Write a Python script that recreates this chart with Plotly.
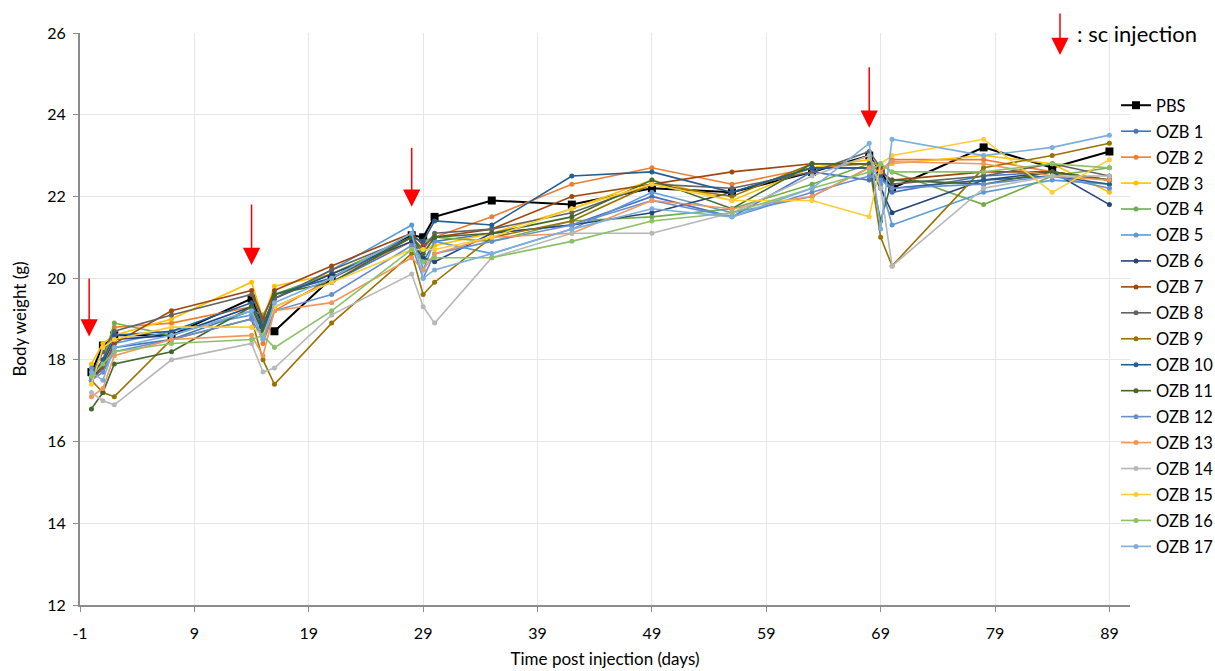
import plotly.graph_objects as go

days = [0, 1, 2, 7, 14, 15, 16, 21, 28, 29, 30, 35, 42, 49, 56, 63, 68, 69, 70, 78, 84, 89]

series_names = ["PBS"] + [f"OZB {i}" for i in range(1, 18)]
series_colors = ["#000000", "#4472C4", "#ED7D31", "#FFC000", "#70AD47", "#5B9BD5", "#264478",
                 "#9E480E", "#636363", "#997300", "#255E91", "#43682B", "#698ED0", "#F1975A",
                 "#B7B7B7", "#FFCD33", "#8CC168", "#7CAFDD"]

pbs = [17.7, 18.35, 18.6, 18.6, 19.5, 18.85, 18.7, 20.0, 21.05, 21.0, 21.5, 21.9, 21.8, 22.2, 22.1, 22.6, 23.0, 22.6, 22.2, 23.2, 22.7, 23.1]
ozb1 = [17.6, 17.8, 18.3, 18.5, 19.2, 18.7, 19.3, 19.9, 20.9, 20.4, 20.9, 21.1, 21.3, 22.0, 21.5, 22.6, 22.4, 22.5, 22.1, 22.5, 22.6, 22.4]
ozb2 = [17.6, 17.9, 18.8, 18.9, 19.3, 18.4, 19.2, 20.0, 20.9, 20.6, 21.0, 21.5, 22.3, 22.7, 22.3, 22.7, 22.8, 22.6, 22.9, 22.9, 22.6, 22.4]
ozb3 = [17.9, 18.4, 18.6, 19.0, 19.9, 19.0, 19.8, 20.1, 21.0, 20.7, 20.8, 21.1, 21.7, 22.4, 21.9, 22.7, 22.9, 22.7, 22.8, 23.0, 22.8, 22.1]
ozb4 = [17.6, 18.0, 18.9, 18.6, 19.2, 19.1, 19.6, 20.1, 21.0, 20.9, 21.0, 20.9, 21.4, 21.5, 21.7, 22.3, 22.8, 22.8, 22.6, 21.8, 22.5, 22.7]
ozb5 = [17.8, 17.7, 18.4, 18.7, 19.1, 18.6, 19.5, 20.2, 21.3, 20.2, 20.9, 20.6, 21.2, 22.1, 21.6, 22.0, 22.7, 22.3, 21.3, 22.1, 22.4, 22.3]
ozb6 = [17.5, 17.9, 18.5, 18.6, 19.3, 18.7, 19.5, 20.1, 20.9, 20.5, 20.4, 21.1, 21.3, 21.6, 22.1, 22.7, 22.7, 22.2, 21.6, 22.4, 22.6, 21.8]
ozb7 = [17.5, 17.8, 18.4, 19.2, 19.7, 19.0, 19.7, 20.3, 21.1, 20.8, 21.0, 21.2, 22.0, 22.3, 22.6, 22.8, 22.8, 22.6, 22.4, 22.6, 22.6, 22.4]
ozb8 = [17.6, 18.2, 18.7, 19.1, 19.6, 18.9, 19.5, 20.2, 21.0, 20.7, 21.1, 21.2, 21.6, 22.3, 22.2, 22.6, 23.1, 22.7, 22.3, 22.5, 22.8, 22.5]
ozb9 = [17.5, 17.2, 17.1, 18.5, 19.0, 18.0, 17.4, 18.9, 20.6, 19.6, 19.9, 21.0, 21.4, 22.3, 22.0, 22.8, 22.8, 21.0, 20.3, 22.7, 23.0, 23.3]
ozb10 = [17.6, 18.0, 18.6, 18.7, 19.4, 18.8, 19.6, 20.0, 21.0, 20.9, 21.4, 21.3, 22.5, 22.6, 22.1, 22.7, 22.7, 22.5, 22.2, 22.4, 22.5, 22.3]
ozb11 = [16.8, 17.2, 17.9, 18.2, 19.3, 18.7, 19.6, 19.9, 21.0, 20.6, 21.0, 21.1, 21.5, 22.4, 21.7, 22.8, 22.8, 21.4, 22.4, 22.3, 22.6, 22.4]
ozb12 = [17.5, 17.7, 18.2, 18.5, 19.0, 18.5, 19.2, 19.6, 20.8, 20.0, 20.6, 20.9, 21.3, 21.9, 21.5, 22.1, 22.5, 22.4, 22.2, 22.3, 22.5, 22.2]
ozb13 = [17.1, 17.3, 18.1, 18.5, 18.6, 18.1, 19.2, 19.4, 20.5, 20.2, 20.6, 21.0, 21.1, 21.9, 21.7, 22.0, 22.7, 22.6, 22.85, 22.8, 22.5, 22.4]
ozb14 = [17.2, 17.0, 16.9, 18.0, 18.4, 17.7, 17.8, 19.1, 20.1, 19.3, 18.9, 20.5, 21.1, 21.1, 21.6, 22.5, 23.0, 22.2, 20.3, 22.2, 22.5, 22.5]
ozb15 = [17.4, 18.3, 18.5, 18.8, 18.8, 18.6, 19.3, 19.9, 20.7, 20.7, 20.7, 21.0, 21.7, 22.3, 21.9, 21.9, 21.5, 22.8, 23.0, 23.4, 22.1, 22.9]
ozb16 = [17.6, 17.9, 18.2, 18.4, 18.5, 18.6, 18.3, 19.2, 20.7, 20.4, 20.5, 20.5, 20.9, 21.4, 21.6, 22.2, 22.6, 22.8, 22.6, 22.6, 22.8, 22.7]
ozb17 = [17.7, 17.5, 18.3, 18.6, 19.2, 18.5, 19.4, 20.0, 21.1, 20.0, 20.2, 20.6, 21.2, 21.7, 21.5, 22.2, 23.3, 21.2, 23.4, 23.0, 23.2, 23.5]

all_values = [pbs, ozb1, ozb2, ozb3, ozb4, ozb5, ozb6, ozb7, ozb8, ozb9, ozb10, ozb11,
              ozb12, ozb13, ozb14, ozb15, ozb16, ozb17]

injection_days = [-0.2, 14, 28, 68]
arrow_tip = [18.57, 20.32, 21.75, 23.68]
arrow_top = [20.03, 21.84, 23.23, 25.2]

x_ticks = [-1, 9, 19, 29, 39, 49, 59, 69, 79, 89]
y_ticks = [12, 14, 16, 18, 20, 22, 24, 26]

FONT = "Lato"
L, R, T, B = 80, 85, 33, 66
W, H = 1215, 671
PW, PH = W - L - R, H - T - B

fig = go.Figure()
for name, color, vals in zip(series_names, series_colors, all_values):
    is_pbs = name == "PBS"
    fig.add_trace(go.Scatter(
        x=days, y=vals, name=name, mode="lines+markers", legendgroup=name,
        line=dict(color=color, width=2 if is_pbs else 1.6),
        marker=dict(color=color, size=8 if is_pbs else 5,
                    symbol="square" if is_pbs else "circle"),
    ))

for d, tip, top in zip(injection_days, arrow_tip, arrow_top):
    fig.add_annotation(x=d, y=tip, ax=d, ay=top, xref="x", yref="y", axref="x", ayref="y",
                       text="", showarrow=True, arrowhead=2, arrowsize=2.3, arrowwidth=1.5,
                       arrowcolor="#FF0000")

# legend arrow
fig.add_annotation(x=(1060 - L) / PW, y=(H - B - 55) / PH, xref="paper", yref="paper",
                   ax=0, ay=-43, text="", showarrow=True, arrowhead=2, arrowsize=2.3,
                   arrowwidth=1.5, arrowcolor="#FF0000")
fig.add_annotation(x=(1075 - L) / PW, y=(H - B - 33) / PH, xref="paper", yref="paper",
                   text=": sc injection", showarrow=False, xanchor="left", yanchor="middle",
                   font=dict(family=FONT, size=22, color="#000000"))

fig.update_layout(
    width=W, height=H,
    margin=dict(l=L, r=R, t=T, b=B, autoexpand=False),
    paper_bgcolor="white", plot_bgcolor="white",
    font=dict(family=FONT, size=16, color="#000000"),
    showlegend=True,
    legend=dict(x=(1116 - L) / PW, y=(H - B - 88) / PH, xanchor="left", yanchor="top",
                font=dict(family=FONT, size=16.5, color="#000000"),
                bgcolor="rgba(0,0,0,0)", itemwidth=30, tracegroupgap=1.5),
    xaxis=dict(range=[-1, 90.8], tickvals=x_ticks, ticktext=[str(v) for v in x_ticks],
               showgrid=True, gridcolor="#E6E6E6", gridwidth=1,
               showline=True, linecolor="#8C8C8C", linewidth=2,
               ticks="outside", ticklen=5, tickcolor="#8C8C8C",
               ticklabelstandoff=8,
               tickfont=dict(family=FONT, size=16), zeroline=False,
               title=dict(text="Time post injection (days)", font=dict(family=FONT, size=17),
                          standoff=12)),
    yaxis=dict(range=[12, 26], tickvals=y_ticks, ticktext=[str(v) for v in y_ticks],
               showgrid=True, gridcolor="#E6E6E6", gridwidth=1,
               showline=True, linecolor="#8C8C8C", linewidth=2,
               ticks="outside", ticklen=5, tickcolor="#8C8C8C",
               ticklabelstandoff=4,
               tickfont=dict(family=FONT, size=16), zeroline=False,
               title=dict(text="Body weight (g)", font=dict(family=FONT, size=17),
                          standoff=16)),
)

fig.write_html("out.html", config={"displayModeBar": False},
               post_script="document.body.style.margin='0px';")
